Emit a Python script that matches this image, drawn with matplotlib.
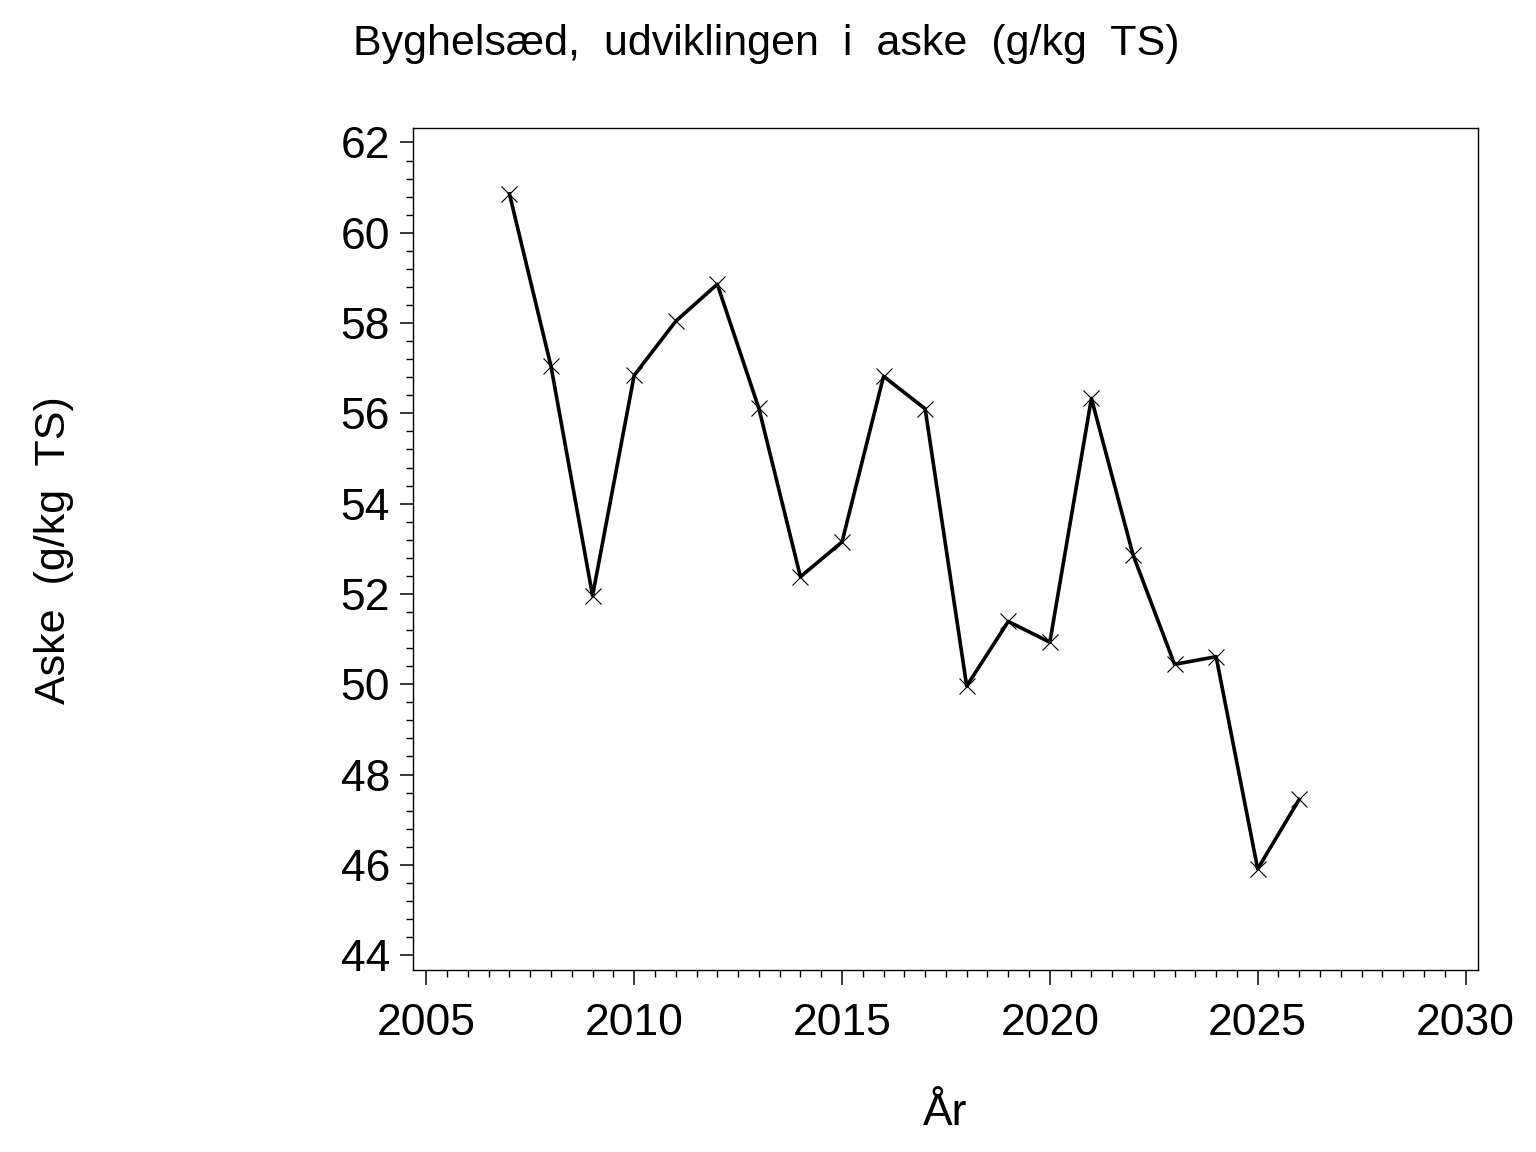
import matplotlib
matplotlib.use("Agg")
import matplotlib.pyplot as plt
from matplotlib.ticker import MultipleLocator

# aske i byghelsæd, g/kg TS
years = [2007, 2008, 2009, 2010, 2011, 2012, 2013, 2014, 2015, 2016,
         2017, 2018, 2019, 2020, 2021, 2022, 2023, 2024, 2025, 2026]
aske = [60.86, 57.04, 51.96, 56.84, 58.04, 58.86, 56.11, 52.38, 53.15, 56.82,
        56.10, 49.96, 51.39, 50.93, 56.33, 52.87, 50.44, 50.61, 45.91, 47.45]

title = "Byghelsæd,  udviklingen  i  aske  (g/kg  TS)"
ylabel = "Aske  (g/kg  TS)"
xlabel = "År"

plt.rcParams['font.family'] = ['Liberation Sans', 'DejaVu Sans']

fig = plt.figure(figsize=(15.36, 11.52), dpi=100)
ax = fig.add_axes([413/1536, 1 - 970/1152, (1478-413)/1536, (970-128)/1152])

ax.plot(years, aske, color='black', lw=2.6, marker='x', ms=11, mew=0.8,
        mec='black')

ax.set_xlim(2004.68, 2030.30)
ax.set_ylim(43.67, 62.32)
ax.xaxis.set_major_locator(MultipleLocator(5))
ax.xaxis.set_minor_locator(MultipleLocator(0.5))
ax.yaxis.set_major_locator(MultipleLocator(2))
ax.yaxis.set_minor_locator(MultipleLocator(0.4))

for s in ax.spines.values():
    s.set_linewidth(1.0)

ax.tick_params(axis='y', which='major', length=9.5, width=1.1, pad=7,
               labelsize=32, direction='out')
ax.tick_params(axis='y', which='minor', length=5, width=1.0, direction='out')
ax.tick_params(axis='x', which='major', length=11, width=1.1, pad=13,
               labelsize=32, direction='out')
ax.tick_params(axis='x', which='minor', length=5, width=1.0, direction='out')

fig.text(766/1536, 1 - 55/1152, title, ha='center', va='baseline', fontsize=31)
fig.text(54/1536, 1 - 550/1152, ylabel, ha='center', va='center',
         rotation=90, fontsize=31)
fig.text(945/1536, 1 - 1125/1152, xlabel, ha='center', va='baseline',
         fontsize=32)

fig.savefig("out.png", dpi=100)
